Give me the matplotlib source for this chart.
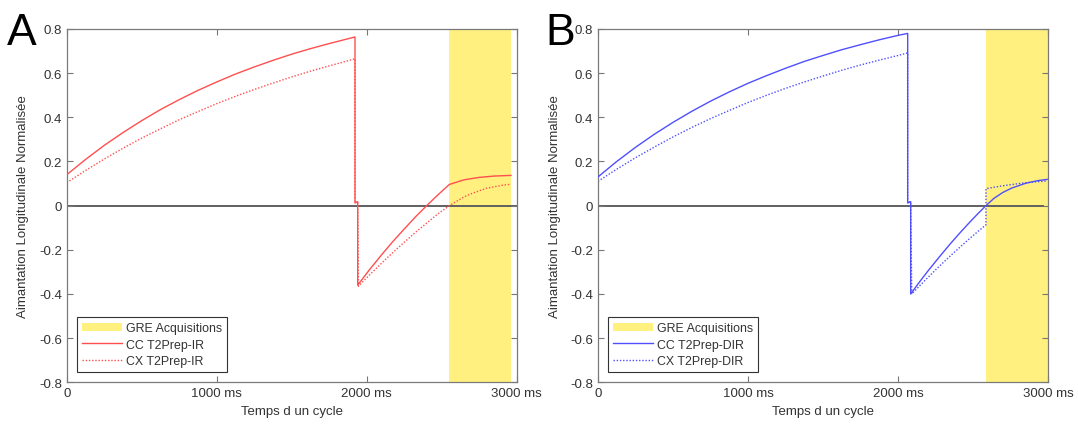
import matplotlib
matplotlib.use("Agg")
import matplotlib.pyplot as plt
from matplotlib.patches import Patch
from matplotlib.lines import Line2D

plt.rcParams['font.family'] = ['Liberation Sans', 'DejaVu Sans']

# --- panel A : T2Prep-IR ---
t_ir_cc = [0, 125, 250, 375, 500, 625, 750, 875, 1000, 1125, 1250, 1375, 1500, 1625, 1750, 1922,
           1922, 1940, 1940, 2020, 2100, 2175, 2250, 2325, 2400, 2475, 2551,
           2650, 2750, 2850, 2962]
m_ir_cc = [0.14, 0.209, 0.273, 0.331, 0.385, 0.435, 0.480, 0.522, 0.560, 0.596, 0.628, 0.658,
           0.686, 0.711, 0.734, 0.764,
           0.012, 0.018, -0.36, -0.289, -0.222, -0.162, -0.106, -0.051, 0.0, 0.049, 0.096,
           0.117, 0.128, 0.134, 0.137]

t_ir_cx = [0, 125, 250, 375, 500, 625, 750, 875, 1000, 1125, 1250, 1375, 1500, 1625, 1750, 1922,
           1922, 1940, 1945, 2020, 2100, 2175, 2250, 2325, 2400, 2475, 2551,
           2650, 2700, 2800, 2900, 2962]
m_ir_cx = [0.104, 0.159, 0.211, 0.260, 0.306, 0.348, 0.389, 0.426, 0.462, 0.495, 0.526, 0.555,
           0.583, 0.609, 0.633, 0.665,
           0.012, 0.018, -0.365, -0.313, -0.260, -0.212, -0.166, -0.121, -0.079, -0.037, 0.0,
           0.040, 0.055, 0.079, 0.092, 0.097]

gre_ir = (2551, 2962)

# --- panel B : T2Prep-DIR ---
t_dir_cc = [0, 125, 250, 375, 500, 625, 750, 875, 1000, 1125, 1250, 1375, 1500, 1625, 1750,
            1875, 2000, 2065,
            2065, 2085, 2085, 2140, 2200, 2275, 2350, 2415, 2480, 2535, 2587,
            2640, 2700, 2760, 2850, 2930, 2995]
m_dir_cc = [0.13, 0.200, 0.264, 0.323, 0.377, 0.427, 0.473, 0.515, 0.554, 0.589, 0.622, 0.653,
            0.680, 0.706, 0.729, 0.751, 0.771, 0.78,
            0.012, 0.018, -0.40, -0.349, -0.296, -0.233, -0.172, -0.122, -0.074, -0.035, 0.0,
            0.033, 0.060, 0.080, 0.101, 0.113, 0.119]

t_dir_cx = [0, 125, 250, 375, 500, 625, 750, 875, 1000, 1125, 1250, 1375, 1500, 1625, 1750,
            1875, 2000, 2065,
            2065, 2085, 2092, 2140, 2200, 2275, 2350, 2415, 2480, 2535, 2587,
            2587, 2700, 2850, 2995]
m_dir_cx = [0.11, 0.165, 0.217, 0.265, 0.311, 0.354, 0.394, 0.431, 0.467, 0.500, 0.531, 0.560,
            0.587, 0.613, 0.637, 0.659, 0.680, 0.692,
            0.012, 0.018, -0.40, -0.366, -0.325, -0.275, -0.227, -0.187, -0.148, -0.116, -0.087,
            0.077, 0.090, 0.104, 0.112]

gre_dir = (2587, 2998)

xticks = [0, 1000, 2000, 3000]
xtick_labels = ['0', '1000 ms', '2000 ms', '3000 ms']
yticks = [-0.8, -0.6, -0.4, -0.2, 0, 0.2, 0.4, 0.6, 0.8]
ytick_labels = ['-0.8', '-0.6', '-0.4', '-0.2', '0', '0.2', '0.4', '0.6', '0.8']

YELLOW = '#fff07f'
TXT = '#333333'


def draw_panel(ax, t_cc, m_cc, t_cx, m_cx, gre, color, name, zero_end):
    ax.axvspan(gre[0], gre[1], color=YELLOW, lw=0, zorder=0)
    ax.plot([0, zero_end], [0, 0], color='#606060', lw=1.4, zorder=1)
    ax.plot(t_cc, m_cc, color=color, lw=1.0, zorder=3)
    ax.plot(t_cx, m_cx, color=color, lw=1.0, linestyle=(0, (1, 1.3)), zorder=2)

    ax.set_xlim(0, 3000)
    ax.set_ylim(-0.8, 0.8)
    ax.set_xticks(xticks)
    ax.set_xticklabels(xtick_labels)
    ax.set_yticks(yticks)
    ax.set_yticklabels(ytick_labels)
    ax.tick_params(direction='in', length=4, width=0.8, colors='#777777',
                   labelcolor=TXT, labelsize=9.5, top=True, right=True)
    for s in ax.spines.values():
        s.set_color('#7a7a7a')
        s.set_linewidth(0.9)
    ax.set_xlabel('Temps d un cycle', fontsize=9.5, color=TXT, labelpad=4)
    ax.set_ylabel('Aimantation Longitudinale Normalisée', fontsize=9.5, color=TXT, labelpad=7)

    handles = [
        Patch(facecolor=YELLOW, edgecolor='none', label='GRE Acquisitions'),
        Line2D([0], [0], color=color, lw=1.0, label='CC ' + name),
        Line2D([0], [0], color=color, lw=1.0, linestyle=(0, (1, 1.3)), label='CX ' + name),
    ]
    leg = ax.legend(handles=handles, loc='lower left', bbox_to_anchor=(0.023, 0.029),
                    borderaxespad=0, fontsize=8.9, handlelength=3.2, handletextpad=0.35,
                    labelspacing=0.36, borderpad=0.4, fancybox=False, framealpha=1)
    leg.get_frame().set_edgecolor('#333333')
    leg.get_frame().set_linewidth(0.8)
    for txt in leg.get_texts():
        txt.set_color(TXT)


fig = plt.figure(figsize=(10.78, 4.31), dpi=100)
ax1 = fig.add_axes([0.0619, 0.1107, 0.4174, 0.8197])
ax2 = fig.add_axes([0.5547, 0.1107, 0.4174, 0.8197])

draw_panel(ax1, t_ir_cc, m_ir_cc, t_ir_cx, m_ir_cx, gre_ir, '#ff4f4f', 'T2Prep-IR', 3000)
draw_panel(ax2, t_dir_cc, m_dir_cc, t_dir_cx, m_dir_cx, gre_dir, '#4f4fff', 'T2Prep-DIR', 2965)

fig.text(0.006, 0.896, 'A', fontsize=32, color='black', va='baseline')
fig.text(0.5055, 0.896, 'B', fontsize=32, color='black', va='baseline')

fig.savefig('out.png', dpi=100)
